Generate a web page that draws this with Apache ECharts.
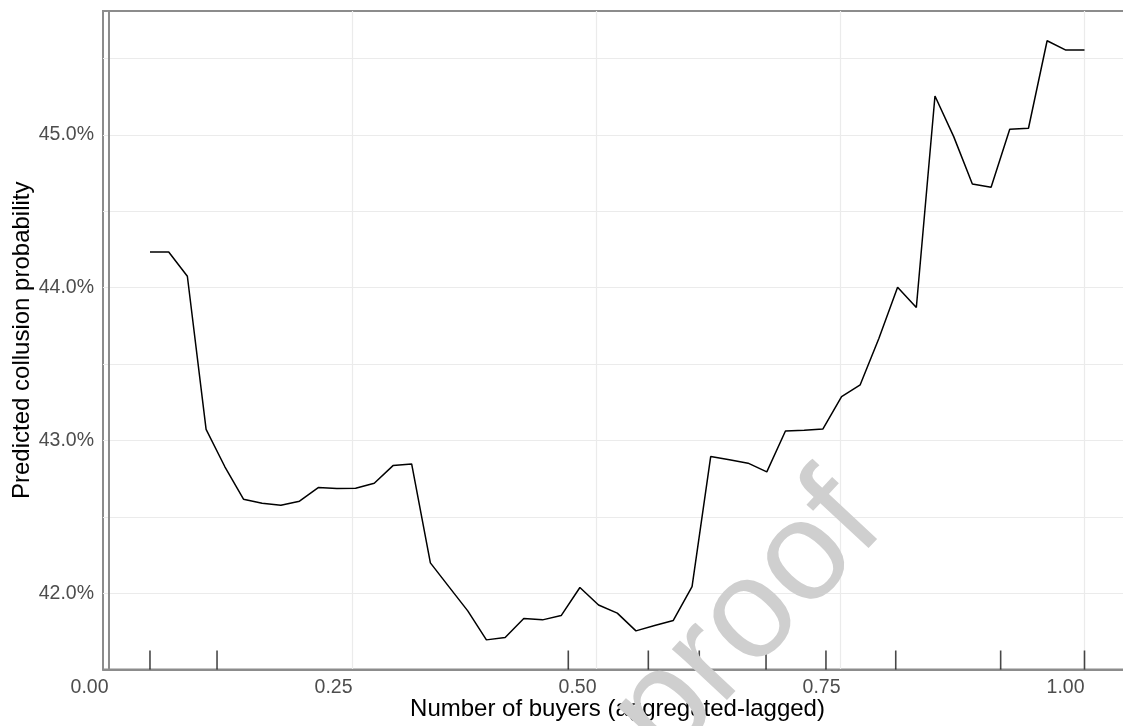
<!DOCTYPE html>
<html>
<head>
<meta charset="utf-8">
<script src="https://cdn.jsdelivr.net/npm/echarts@6/dist/echarts.min.js"></script>
<style>
  html, body { margin: 0; padding: 0; background: #ffffff; }
  #chart { width: 1123px; height: 726px; }
</style>
</head>
<body>
<div id="chart"></div>
<script>
// Number of buyers (aggregated-lagged), evaluation grid
const xVals = [
  0.0425, 0.0617, 0.0808, 0.1000, 0.1191, 0.1383, 0.1574, 0.1766, 0.1957, 0.2149,
  0.2340, 0.2532, 0.2723, 0.2915, 0.3106, 0.3298, 0.3489, 0.3681, 0.3872, 0.4064,
  0.4255, 0.4447, 0.4638, 0.4830, 0.5021, 0.5213, 0.5404, 0.5596, 0.5787, 0.5979,
  0.6170, 0.6362, 0.6553, 0.6745, 0.6936, 0.7128, 0.7319, 0.7511, 0.7702, 0.7894,
  0.8085, 0.8277, 0.8468, 0.8660, 0.8851, 0.9043, 0.9234, 0.9426, 0.9617, 0.9809,
  1.0000
];
// Predicted collusion probability (%)
const yVals = [
  44.234, 44.234, 44.075, 43.072, 42.829, 42.615, 42.589, 42.576, 42.602, 42.691,
  42.685, 42.687, 42.720, 42.835, 42.846, 42.198, 42.041, 41.884, 41.694, 41.709,
  41.834, 41.825, 41.853, 42.037, 41.922, 41.869, 41.753, 41.788, 41.821, 42.043,
  42.894, 42.873, 42.851, 42.794, 43.062, 43.066, 43.074, 43.287, 43.364, 43.669,
  44.003, 43.870, 45.255, 44.989, 44.679, 44.658, 45.037, 45.044, 45.617, 45.556,
  45.556
];
// Rug marks (observed distribution)
const rugX = [0.0425, 0.1112, 0.4711, 0.5531, 0.6053, 0.6737, 0.7351, 0.8066, 0.9141, 1.0000];

const xTickLabels = [0, 0.25, 0.5, 0.75, 1.0];
const yTickLabels = [42, 43, 44, 45];
const yGridValues = [42, 42.5, 43, 43.5, 44, 44.5, 45, 45.5];

const xTitle = 'Number of buyers (aggregated-lagged)';
const yTitle = 'Predicted collusion probability';
const watermark = 'proof';

const FONT = '"Liberation Sans", Arial, Helvetica, sans-serif';

const chart = echarts.init(document.getElementById('chart'), null, { renderer: 'canvas' });

const lineData = xVals.map((x, i) => [x, yVals[i]]);
const rugData = rugX.map(x => [x, 41.5]);

chart.setOption({
  animation: false,
  backgroundColor: '#ffffff',
  grid: {
    left: 103, top: 11, right: -2, bottom: 56.5,
    containLabel: false,
    outerBoundsMode: 'none',
    show: true, borderColor: '#8c8c8c', borderWidth: 2, backgroundColor: 'transparent'
  },
  xAxis: {
    type: 'value',
    min: -0.005635,
    max: 1.0415,
    name: xTitle,
    nameLocation: 'middle',
    nameGap: 27.5,
    nameMoveOverlap: false,
    nameTextStyle: { fontFamily: FONT, fontSize: 24, color: '#000000', padding: [0, 0, 0, 7] },
    axisLine: { show: true, lineStyle: { color: '#8c8c8c', width: 2 } },
    axisTick: { show: false, customValues: xTickLabels },
    axisLabel: {
      customValues: xTickLabels,
      formatter: v => v.toFixed(2),
      align: 'right',
      fontFamily: FONT, fontSize: 19.5, color: '#4d4d4d', margin: 8.5
    },
    splitLine: { show: true, lineStyle: { color: '#ebebeb', width: 1.2 } }
  },
  yAxis: {
    type: 'value',
    min: 41.5,
    max: 45.8117,
    name: yTitle,
    nameLocation: 'middle',
    nameGap: 69,
    nameMoveOverlap: false,
    nameRotate: 90,
    nameTextStyle: { fontFamily: FONT, fontSize: 24, color: '#000000' },
    axisLine: { show: true, lineStyle: { color: '#8c8c8c', width: 2 } },
    axisTick: { show: false, customValues: yGridValues },
    axisLabel: {
      customValues: yTickLabels,
      formatter: v => v.toFixed(1) + '%',
      fontFamily: FONT, fontSize: 19.5, color: '#4d4d4d', margin: 9
    },
    splitLine: { show: true, lineStyle: { color: '#ebebeb', width: 1.2 } }
  },
  graphic: [{
    type: 'text',
    x: 748, y: 620,
    rotation: 47 * Math.PI / 180,
    z: 100,
    silent: true,
    style: {
      text: watermark,
      font: '142px ' + FONT,
      fill: '#cfcfcf',
      align: 'center',
      verticalAlign: 'middle'
    }
  }],
  series: [
    {
      type: 'line',
      data: lineData,
      showSymbol: false,
      symbol: 'none',
      lineStyle: { color: '#000000', width: 1.5 },
      z: 5
    },
    {
      type: 'scatter',
      data: rugData,
      symbol: 'rect',
      symbolSize: [1.6, 19],
      symbolOffset: [0, -9.5],
      itemStyle: { color: '#1a1a1a' },
      clip: false,
      z: 6
    }
  ]
});
</script>
</body>
</html>
